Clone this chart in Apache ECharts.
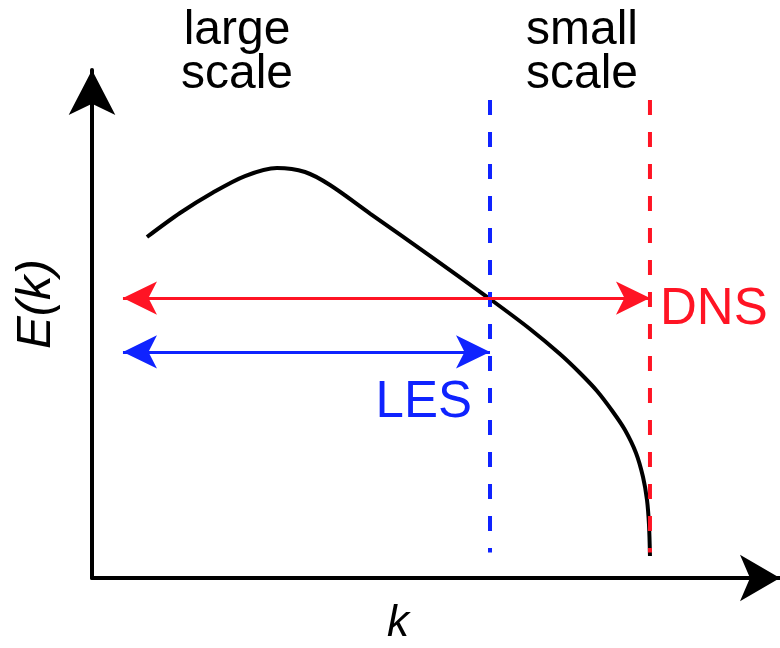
<!DOCTYPE html>
<html>
<head>
<meta charset="utf-8">
<script src="https://cdn.jsdelivr.net/npm/echarts@6/dist/echarts.min.js"></script>
<style>
  html, body { margin: 0; padding: 0; background: #ffffff; }
  #chart { width: 780px; height: 648px; }
</style>
</head>
<body>
<div id="chart"></div>
<script>
// Schematic turbulent energy spectrum E(k) in arbitrary units (k: 0..100, E: 0..100)
const spectrumK = [7.99, 12.79, 17.59, 22.24, 26.89, 30.96, 34.59, 40.41, 49.13, 57.85, 63.66, 68.02, 70.93, 73.40, 75.73, 77.47, 79.07, 80.09, 80.67, 80.96, 81.10];
const spectrumE = [67.13, 71.85, 75.89, 79.13, 80.71, 79.92, 77.36, 71.75, 63.39, 54.92, 49.02, 44.09, 40.35, 36.81, 32.68, 29.13, 24.61, 19.88, 15.35, 10.43, 4.33];

// Cut-off wavenumbers of the two approaches
const lesCutoff = 57.85;
const dnsCutoff = 81.1;
const cutoffTop = 94.1;
const cutoffBottom = 5.0;

// Resolved wavenumber ranges (double-headed arrows)
const rangeStart = 4.5;
const dnsRangeLevel = 55.1;
const lesRangeLevel = 44.5;

const RED = '#ff1424';
const BLUE = '#0f23ff';
const FONT = '"Liberation Sans", Arial, Helvetica, sans-serif';

const chart = echarts.init(document.getElementById('chart'), null, { renderer: 'canvas' });

function rangeArrow(color, level, end) {
  return {
    type: 'line',
    data: [],
    silent: true,
    markLine: {
      silent: true,
      symbol: ['arrow', 'arrow'],
      symbolSize: [25, 34],
      label: { show: false },
      emphasis: { disabled: true },
      lineStyle: { color: color, width: 3, type: 'solid' },
      data: [[{ coord: [rangeStart, level] }, { coord: [end, level] }]]
    }
  };
}

function cutoffLine(color, k, bottom) {
  return {
    type: 'line',
    data: [[k, cutoffTop], [k, bottom]],
    symbol: 'none',
    silent: true,
    lineStyle: { color: color, width: 4, type: [15, 17] }
  };
}

const option = {
  animation: false,
  backgroundColor: '#ffffff',
  grid: { left: 92, right: 0, top: 70, bottom: 70 },
  xAxis: {
    type: 'value', min: 0, max: 100,
    axisLine: {
      show: true,
      symbol: ['none', 'arrow'],
      symbolSize: [35, 40],
      lineStyle: { color: '#000', width: 4 }
    },
    axisTick: { show: false },
    axisLabel: { show: false },
    splitLine: { show: false }
  },
  yAxis: {
    type: 'value', min: 0, max: 100,
    axisLine: {
      show: true,
      symbol: ['none', 'arrow'],
      symbolSize: [35, 45],
      lineStyle: { color: '#000', width: 4 }
    },
    axisTick: { show: false },
    axisLabel: { show: false },
    splitLine: { show: false }
  },
  series: [
    {
      type: 'line',
      data: spectrumK.map((k, i) => [k, spectrumE[i]]),
      smooth: 0.3,
      symbol: 'none',
      silent: true,
      lineStyle: { color: '#000', width: 4 }
    },
    cutoffLine(BLUE, lesCutoff, cutoffBottom),
    cutoffLine(RED, dnsCutoff, cutoffBottom),
    rangeArrow(RED, dnsRangeLevel, dnsCutoff),
    rangeArrow(BLUE, lesRangeLevel, lesCutoff)
  ],
  graphic: [
    { type: 'text', x: 237, y: 31, style: { text: 'large', font: '48px ' + FONT, fill: '#000', align: 'center', verticalAlign: 'middle' } },
    { type: 'text', x: 237, y: 75, style: { text: 'scale', font: '48px ' + FONT, fill: '#000', align: 'center', verticalAlign: 'middle' } },
    { type: 'text', x: 582, y: 31, style: { text: 'small', font: '48px ' + FONT, fill: '#000', align: 'center', verticalAlign: 'middle' } },
    { type: 'text', x: 582, y: 75, style: { text: 'scale', font: '48px ' + FONT, fill: '#000', align: 'center', verticalAlign: 'middle' } },
    { type: 'text', x: 660, y: 310, style: { text: 'DNS', font: '51px ' + FONT, fill: RED, align: 'left', verticalAlign: 'middle' } },
    { type: 'text', x: 472, y: 403, style: { text: 'LES', font: '51px ' + FONT, fill: BLUE, align: 'right', verticalAlign: 'middle' } },
    { type: 'text', x: 398, y: 624, style: { text: 'k', font: 'italic 44px ' + FONT, fill: '#000', align: 'center', verticalAlign: 'middle' } },
    { type: 'text', x: 36, y: 304, rotation: Math.PI / 2, style: { text: 'E(k)', font: 'italic 49px ' + FONT, fill: '#000', align: 'center', verticalAlign: 'middle' } }
  ]
};

chart.setOption(option);
</script>
</body>
</html>
